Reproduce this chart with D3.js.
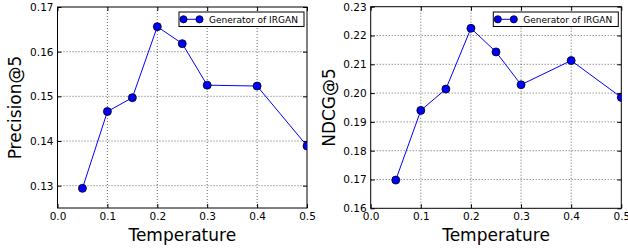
<!DOCTYPE html>
<html>
<head>
<meta charset="utf-8">
<script src="https://cdn.jsdelivr.net/npm/d3@7"></script>
<style>
  body { margin: 0; background: #fff; }
  text { font-family: "DejaVu Sans", sans-serif; fill: #000; }
</style>
</head>
<body>
<script>
const temperature = [0.05, 0.1, 0.15, 0.2, 0.25, 0.3, 0.4, 0.5];
const precision = [0.1294, 0.1466, 0.1497, 0.1656, 0.1618, 0.1525, 0.1523, 0.1389];
const ndcg = [0.1698, 0.1940, 0.2014, 0.2225, 0.2143, 0.2029, 0.2113, 0.1985];

const xTicks = [0.0, 0.1, 0.2, 0.3, 0.4, 0.5];
const precTicks = [0.13, 0.14, 0.15, 0.16, 0.17];
const ndcgTicks = [0.16, 0.17, 0.18, 0.19, 0.20, 0.21, 0.22, 0.23];
const legendLabel = 'Generator of IRGAN';

const w = 628;
const h = 248;

const svg = d3.select('body')
  .append('svg')
  .attr('width', w)
  .attr('height', h);

function panel(id, left, right, top, bottom, yDomain, yTicks, values, yLabel, yLabelX) {
  const xScale = d3.scaleLinear().domain([0, 0.5]).range([left, right]);
  const yScale = d3.scaleLinear().domain(yDomain).range([bottom, top]);

  const g = svg.append('g');

  g.append('clipPath').attr('id', id)
    .append('rect')
    .attr('x', left).attr('y', top)
    .attr('width', right - left).attr('height', bottom - top);

  // grid
  g.selectAll('.gx').data(xTicks.slice(1, -1)).enter()
    .append('line')
    .attr('x1', d => xScale(d)).attr('x2', d => xScale(d))
    .attr('y1', top).attr('y2', bottom)
    .attr('stroke', '#000').attr('stroke-width', 0.6)
    .attr('stroke-dasharray', '1,2');
  g.selectAll('.gy').data(yTicks.filter(d => yScale(d) > top + 1 && yScale(d) < bottom - 1)).enter()
    .append('line')
    .attr('y1', d => yScale(d)).attr('y2', d => yScale(d))
    .attr('x1', left).attr('x2', right)
    .attr('stroke', '#000').attr('stroke-width', 0.6)
    .attr('stroke-dasharray', '1,2');

  // axes, ticks pointing inward on all sides
  const xAxis = d3.axisBottom(xScale).tickValues(xTicks).tickSize(-4).tickPadding(4.5)
    .tickFormat(d3.format('.1f'));
  const xAxisTop = d3.axisTop(xScale).tickValues(xTicks).tickSize(-4).tickFormat('');
  const yAxis = d3.axisLeft(yScale).tickValues(yTicks).tickSize(-4).tickPadding(4)
    .tickFormat(d3.format('.2f'));
  const yAxisRight = d3.axisRight(yScale).tickValues(yTicks).tickSize(-4).tickFormat('');

  [
    [xAxis, 'translate(0,' + bottom + ')'],
    [xAxisTop, 'translate(0,' + top + ')'],
    [yAxis, 'translate(' + left + ',0)'],
    [yAxisRight, 'translate(' + right + ',0)']
  ].forEach(([ax, tr]) => {
    const a = g.append('g').attr('transform', tr).call(ax);
    a.select('.domain').remove();
    a.selectAll('line').attr('stroke', '#000');
    a.selectAll('text').attr('font-size', 10.5).attr('font-family', '"DejaVu Sans", sans-serif');
  });

  // frame
  g.append('rect')
    .attr('x', left).attr('y', top)
    .attr('width', right - left).attr('height', bottom - top)
    .attr('fill', 'none').attr('stroke', '#000').attr('stroke-width', 1);

  // series
  const pts = temperature.map((t, i) => [t, values[i]]);
  const line = d3.line().x(d => xScale(d[0])).y(d => yScale(d[1]));
  const s = g.append('g').attr('clip-path', 'url(#' + id + ')');
  s.append('path').datum(pts)
    .attr('d', line)
    .attr('fill', 'none').attr('stroke', '#0000ff').attr('stroke-width', 1);
  s.selectAll('circle').data(pts).enter()
    .append('circle')
    .attr('cx', d => xScale(d[0])).attr('cy', d => yScale(d[1]))
    .attr('r', 4)
    .attr('fill', '#0000ff').attr('stroke', '#000').attr('stroke-width', 0.8);

  // axis labels
  g.append('text')
    .attr('x', (left + right) / 2).attr('y', 241)
    .attr('text-anchor', 'middle').attr('font-size', 17)
    .text('Temperature');
  g.append('text')
    .attr('transform', 'translate(' + yLabelX + ',' + (top + bottom) / 2 + ') rotate(-90)')
    .attr('text-anchor', 'middle').attr('font-size', 17)
    .text(yLabel);

  // legend
  const lx = right - 128;
  const ly = 12;
  g.append('rect')
    .attr('x', lx).attr('y', ly).attr('width', 125).attr('height', 14.5)
    .attr('fill', '#fff').attr('stroke', '#000').attr('stroke-width', 1);
  g.append('line')
    .attr('x1', lx + 4.5).attr('x2', lx + 20.5)
    .attr('y1', ly + 7.3).attr('y2', ly + 7.3)
    .attr('stroke', '#0000ff').attr('stroke-width', 1);
  g.selectAll('.lm').data([lx + 4.5, lx + 20.5]).enter()
    .append('circle')
    .attr('cx', d => d).attr('cy', ly + 7.3).attr('r', 3.6)
    .attr('fill', '#0000ff').attr('stroke', '#000').attr('stroke-width', 0.8);
  g.append('text')
    .attr('x', lx + 30).attr('y', ly + 10.6)
    .attr('font-size', 9)
    .text(legendLabel);
}

panel('clipA', 57.5, 307, 7, 208, [0.125, 0.17], precTicks, precision, 'Precision@5', 21);
panel('clipB', 370.7, 621.3, 6.7, 208.3, [0.16, 0.23], ndcgTicks, ndcg, 'NDCG@5', 335);
</script>
</body>
</html>
